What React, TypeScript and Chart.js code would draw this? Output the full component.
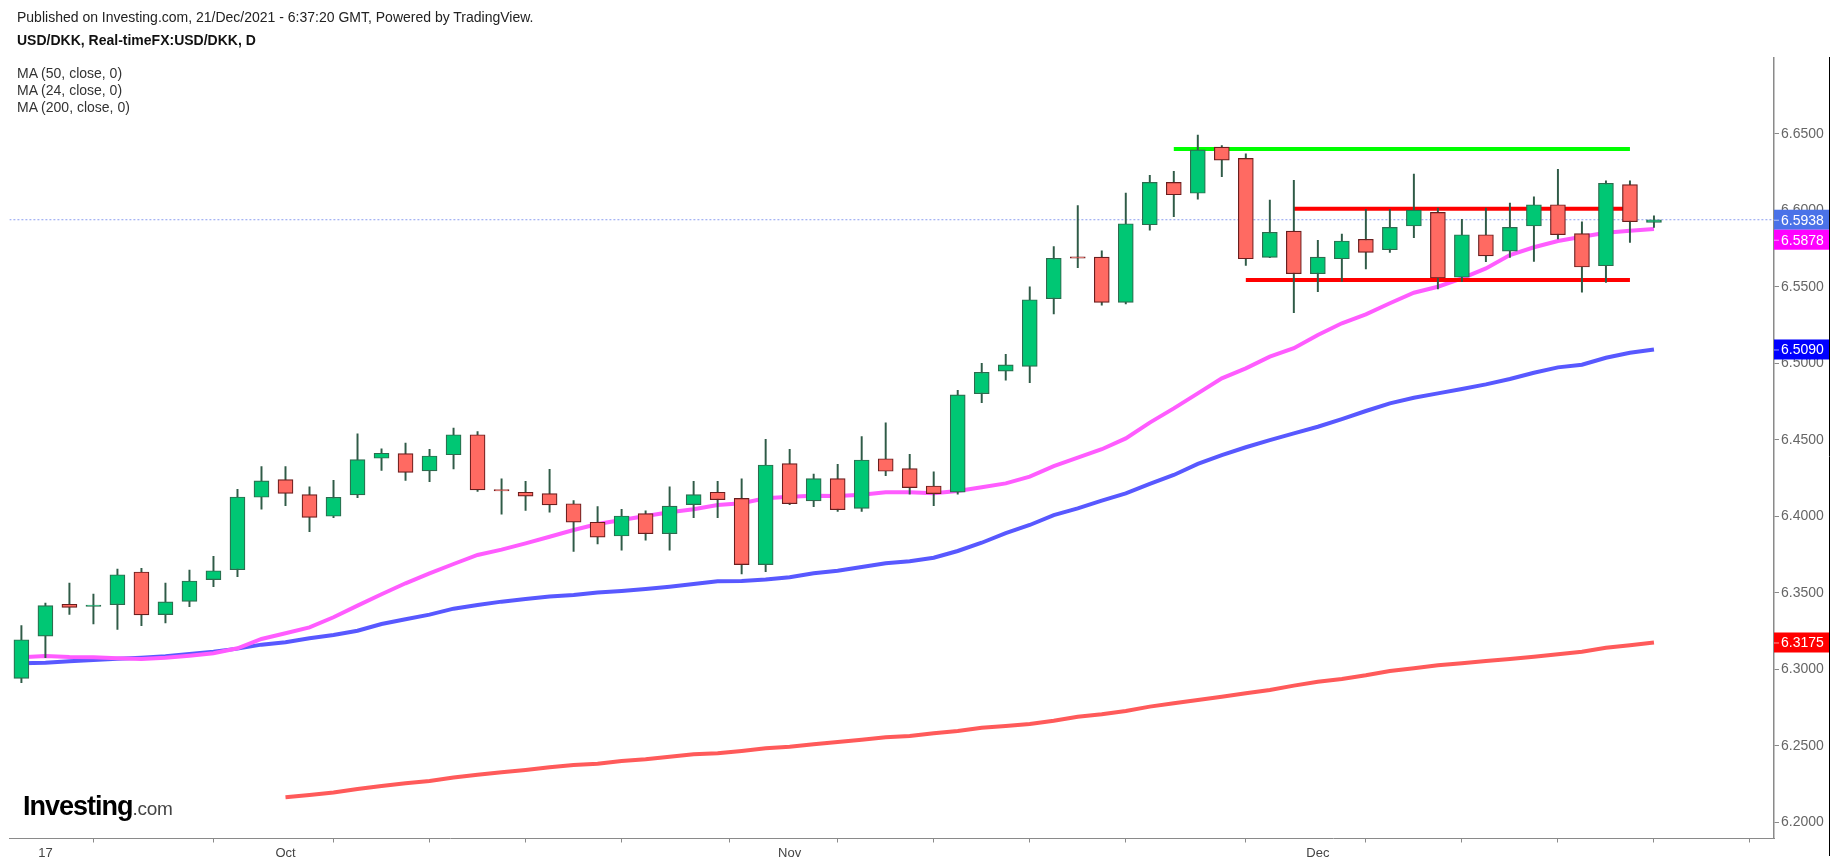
import React, { useEffect, useRef } from "react";
import { Chart, registerables } from "chart.js";

Chart.register(...registerables);

const FONT = '"Liberation Sans", Arial, Helvetica, sans-serif';

// ---- categories (trading days) ----
const dates = [
  "2021-09-16", "2021-09-17", "2021-09-20", "2021-09-21", "2021-09-22", "2021-09-23", "2021-09-24",
  "2021-09-27", "2021-09-28", "2021-09-29", "2021-09-30",
  "2021-10-01", "2021-10-04", "2021-10-05", "2021-10-06", "2021-10-07", "2021-10-08", "2021-10-11",
  "2021-10-12", "2021-10-13", "2021-10-14", "2021-10-15", "2021-10-18", "2021-10-19", "2021-10-20",
  "2021-10-21", "2021-10-22", "2021-10-25", "2021-10-26", "2021-10-27", "2021-10-28", "2021-10-29",
  "2021-11-01", "2021-11-02", "2021-11-03", "2021-11-04", "2021-11-05", "2021-11-08", "2021-11-09",
  "2021-11-10", "2021-11-11", "2021-11-12", "2021-11-15", "2021-11-16", "2021-11-17", "2021-11-18",
  "2021-11-19", "2021-11-22", "2021-11-23", "2021-11-24", "2021-11-25", "2021-11-26", "2021-11-29",
  "2021-11-30",
  "2021-12-01", "2021-12-02", "2021-12-03", "2021-12-06", "2021-12-07", "2021-12-08", "2021-12-09",
  "2021-12-10", "2021-12-13", "2021-12-14", "2021-12-15", "2021-12-16", "2021-12-17", "2021-12-20",
  "2021-12-21",
];

// ---- OHLC series ----
const opens = [
  6.2940, 6.3216, 6.3425, 6.3410, 6.3422, 6.3636, 6.3357, 6.3444, 6.3586, 6.3651,
  6.4124, 6.4239, 6.4141, 6.4000, 6.4139, 6.4379, 6.4409, 6.4296, 6.4402, 6.4533,
  6.4175, 6.4157, 6.4148, 6.4082, 6.3961, 6.3871, 6.4017, 6.3886, 6.4076, 6.4157,
  6.4117, 6.3684, 6.4344, 6.4100, 6.4246, 6.4052, 6.4376, 6.4311, 6.4198, 6.4157,
  6.4801, 6.4949, 6.4980, 6.5422, 6.5696, 6.5694, 6.5398, 6.5905, 6.6182, 6.6111,
  6.6413, 6.6339, 6.5692, 6.5864, 6.5585, 6.5683, 6.5810, 6.5742, 6.5897, 6.5986,
  6.5562, 6.5840, 6.5733, 6.5897, 6.6036, 6.5847, 6.5637, 6.6167, 6.5921,
];
const highs = [
  6.3285, 6.3433, 6.3564, 6.3492, 6.3655, 6.3660, 6.3564, 6.3649, 6.3738, 6.4176,
  6.4324, 6.4324, 6.4193, 6.4235, 6.4538, 6.4440, 6.4479, 6.4438, 6.4577, 6.4553,
  6.4244, 6.4229, 6.4307, 6.4102, 6.4063, 6.4046, 6.4036, 6.4193, 6.4229, 6.4229,
  6.4244, 6.4503, 6.4438, 6.4276, 6.4340, 6.4520, 6.4610, 6.4405, 6.4291, 6.4823,
  6.5000, 6.5058, 6.5500, 6.5762, 6.6030, 6.5735, 6.6112, 6.6228, 6.6254, 6.6492,
  6.6422, 6.6369, 6.6067, 6.6195, 6.5803, 6.5845, 6.6006, 6.6006, 6.6237, 6.6014,
  6.5941, 6.6014, 6.6047, 6.6088, 6.6268, 6.5925, 6.6193, 6.6193, 6.5964,
];
const lows = [
  6.2912, 6.3076, 6.3359, 6.3296, 6.3261, 6.3285, 6.3303, 6.3409, 6.3540, 6.3605,
  6.4046, 6.4069, 6.3899, 6.3991, 6.4121, 6.4300, 6.4235, 6.4226, 6.4309, 6.4163,
  6.4013, 6.4039, 6.4026, 6.3771, 6.3819, 6.3778, 6.3843, 6.3778, 6.3991, 6.3991,
  6.3623, 6.3638, 6.4076, 6.4063, 6.4032, 6.4032, 6.4265, 6.4144, 6.4069, 6.4144,
  6.4742, 6.4889, 6.4873, 6.5322, 6.5624, 6.5379, 6.5387, 6.5869, 6.5958, 6.6073,
  6.6219, 6.5640, 6.5690, 6.5330, 6.5468, 6.5535, 6.5616, 6.5725, 6.5820, 6.5485,
  6.5533, 6.5664, 6.5692, 6.5666, 6.5812, 6.5464, 6.5529, 6.5790, 6.5888,
];
const closes = [
  6.3193, 6.3416, 6.3405, 6.3420, 6.3618, 6.3355, 6.3440, 6.3577, 6.3644, 6.4126,
  6.4231, 6.4150, 6.3993, 6.4124, 6.4370, 6.4412, 6.4287, 6.4394, 6.4533, 6.4172,
  6.4166, 6.4132, 6.4074, 6.3961, 6.3863, 6.4002, 6.3886, 6.4067, 6.4141, 6.4108,
  6.3684, 6.4335, 6.4082, 6.4246, 6.4043, 6.4368, 6.4294, 6.4187, 6.4148, 6.4793,
  6.4941, 6.4990, 6.5415, 6.5686, 6.5686, 6.5398, 6.5912, 6.6182, 6.6101, 6.6395,
  6.6328, 6.5683, 6.5856, 6.5585, 6.5694, 6.5799, 6.5725, 6.5888, 6.6001, 6.5557,
  6.5840, 6.5701, 6.5888, 6.6036, 6.5840, 6.5629, 6.6176, 6.5925, 6.5938,
];

// ---- moving averages ----
const ma50 = [
  6.3039, 6.3043, 6.3052, 6.3061, 6.3069, 6.3076, 6.3085, 6.3100, 6.3115, 6.3135,
  6.3161, 6.3176, 6.3203, 6.3224, 6.3252, 6.3296, 6.3327, 6.3357, 6.3396, 6.3420,
  6.3442, 6.3459, 6.3475, 6.3486, 6.3501, 6.3512, 6.3525, 6.3540, 6.3557, 6.3575,
  6.3577, 6.3586, 6.3601, 6.3627, 6.3644, 6.3669, 6.3693, 6.3706, 6.3729, 6.3773,
  6.3827, 6.3890, 6.3943, 6.4008, 6.4052, 6.4102, 6.4150, 6.4211, 6.4270, 6.4342,
  6.4400, 6.4451, 6.4498, 6.4542, 6.4585, 6.4635, 6.4688, 6.4738, 6.4775, 6.4803,
  6.4832, 6.4862, 6.4897, 6.4938, 6.4973, 6.4990, 6.5036, 6.5069, 6.5090,
];
const ma24 = [
  6.3078, 6.3087, 6.3080, 6.3078, 6.3072, 6.3067, 6.3076, 6.3089, 6.3105, 6.3137,
  6.3198, 6.3235, 6.3274, 6.3340, 6.3416, 6.3490, 6.3562, 6.3627, 6.3688, 6.3747,
  6.3782, 6.3823, 6.3866, 6.3910, 6.3949, 6.3976, 6.4002, 6.4026, 6.4046, 6.4074,
  6.4085, 6.4117, 6.4128, 6.4134, 6.4132, 6.4141, 6.4157, 6.4157, 6.4150, 6.4165,
  6.4189, 6.4215, 6.4259, 6.4328, 6.4383, 6.4438, 6.4509, 6.4612, 6.4705, 6.4803,
  6.4901, 6.4967, 6.5043, 6.5098, 6.5185, 6.5261, 6.5320, 6.5392, 6.5461, 6.5500,
  6.5555, 6.5620, 6.5707, 6.5758, 6.5799, 6.5827, 6.5853, 6.5866, 6.5878,
];
const ma200Start = 11; // first date with a 200-day value shown (2021-10-01)
const ma200 = [
  6.2164, 6.2179, 6.2194, 6.2218, 6.2237, 6.2255, 6.2270, 6.2292, 6.2311, 6.2327,
  6.2342, 6.2360, 6.2375, 6.2383, 6.2401, 6.2412, 6.2429, 6.2444, 6.2451, 6.2466,
  6.2484, 6.2494, 6.2510, 6.2525, 6.2540, 6.2556, 6.2564, 6.2582, 6.2597, 6.2618,
  6.2629, 6.2643, 6.2664, 6.2690, 6.2706, 6.2727, 6.2756, 6.2778, 6.2799, 6.2821,
  6.2843, 6.2865, 6.2893, 6.2919, 6.2937, 6.2961, 6.2989, 6.3006, 6.3026, 6.3039,
  6.3054, 6.3067, 6.3082, 6.3098, 6.3115, 6.3141, 6.3157, 6.3175,
];

// ---- drawn levels ----
const resistanceLevel = 6.6400;
const resistanceSpan = ["2021-11-23", "2021-12-20"];
const rangeTopLevel = 6.6010;
const rangeTopSpan = ["2021-11-30", "2021-12-20"];
const rangeBottomLevel = 6.5544;
const rangeBottomSpan = ["2021-11-26", "2021-12-20"];
const lastPrice = 6.5938;

// ---- ticks ----
const yTicks = [6.20, 6.25, 6.30, 6.35, 6.40, 6.45, 6.50, 6.55, 6.60, 6.65];
const xTickIndex = [1, 5, 11, 15, 19, 23, 27, 32, 36, 40, 44, 48, 54, 58, 62, 66, 70];
const xTickLabels = ["17", "", "Oct", "", "", "", "", "Nov", "", "", "", "", "Dec", "", "", "", ""];

const legendLines = ["MA (50, close, 0)", "MA (24, close, 0)", "MA (200, close, 0)"];

const GREEN = "#00c774";
const GREEN_EDGE = "#2d6b4e";
const RED = "#ff6a62";
const RED_EDGE = "#6a1e1e";
const WICK = "#2f5b47";

export default function App() {
  const ref = useRef<HTMLCanvasElement | null>(null);

  useEffect(() => {
    if (!ref.current) return;
    const idx = (d: string) => dates.indexOf(d);
    const up = closes.map((c, i) => c >= opens[i]);
    const xMin = -0.5;
    const xMax = 73;

    const tagPlugin = {
      id: "tags",
      afterDraw(chart: any) {
        const ctx = chart.ctx;
        const ys = chart.scales.y;
        const area = chart.chartArea;
        ctx.save();
        // right frame line
        ctx.strokeStyle = "#000";
        ctx.lineWidth = 1;
        ctx.beginPath();
        ctx.moveTo(1829.5, 57);
        ctx.lineTo(1829.5, 856);
        ctx.stroke();
        const tags = [
          { v: lastPrice, c: "#4a72e8" },
          { v: ma24[ma24.length - 1], c: "#ff00ff" },
          { v: ma50[ma50.length - 1], c: "#0000ff" },
          { v: ma200[ma200.length - 1], c: "#ff0000" },
        ];
        let prevBottom = -Infinity;
        const h = 20;
        ctx.font = `14px ${FONT}`;
        ctx.textBaseline = "middle";
        ctx.textAlign = "left";
        tags.forEach((t) => {
          let cy = ys.getPixelForValue(t.v);
          if (cy - h / 2 < prevBottom) cy = prevBottom + h / 2;
          prevBottom = cy + h / 2;
          ctx.fillStyle = t.c;
          ctx.fillRect(area.right, cy - h / 2, 55, h);
          ctx.strokeStyle = "rgba(255,255,255,0.6)";
          ctx.beginPath();
          ctx.moveTo(area.right, cy + 0.5);
          ctx.lineTo(area.right + 5, cy + 0.5);
          ctx.stroke();
          ctx.fillStyle = "#fff";
          ctx.fillText(t.v.toFixed(4), area.right + 7, cy + 1);
        });
        ctx.restore();
      },
    };

    const chart = new Chart(ref.current, {
      type: "bar",
      data: {
        datasets: [
          {
            type: "bar",
            label: "body",
            data: closes.map((c, i) => ({ x: i, y: [opens[i], c] })) as any,
            backgroundColor: up.map((u) => (u ? GREEN : RED)),
            borderColor: up.map((u) => (u ? GREEN_EDGE : RED_EDGE)),
            borderWidth: 1.2,
            borderSkipped: false,
            barThickness: 15,
            grouped: false,
            order: 0,
          } as any,
          {
            type: "bar",
            label: "wick",
            data: highs.map((h, i) => ({ x: i, y: [lows[i], h] })) as any,
            backgroundColor: WICK,
            borderWidth: 0,
            barThickness: 1.3,
            grouped: false,
            order: 1,
          } as any,
          {
            type: "line",
            label: "range top",
            data: [
              { x: idx(rangeTopSpan[0]), y: rangeTopLevel },
              { x: idx(rangeTopSpan[1]), y: rangeTopLevel },
            ],
            borderColor: "#ff0000",
            borderWidth: 4,
            pointRadius: 0,
            order: 2,
          },
          {
            type: "line",
            label: "range bottom",
            data: [
              { x: idx(rangeBottomSpan[0]), y: rangeBottomLevel },
              { x: idx(rangeBottomSpan[1]), y: rangeBottomLevel },
            ],
            borderColor: "#ff0000",
            borderWidth: 4,
            pointRadius: 0,
            order: 2,
          },
          {
            type: "line",
            label: "resistance",
            data: [
              { x: idx(resistanceSpan[0]), y: resistanceLevel },
              { x: idx(resistanceSpan[1]), y: resistanceLevel },
            ],
            borderColor: "#00ff00",
            borderWidth: 4,
            pointRadius: 0,
            order: 2,
          },
          {
            type: "line",
            label: "MA 24",
            data: ma24.map((v, i) => ({ x: i, y: v })),
            borderColor: "#ff5cff",
            borderWidth: 4,
            pointRadius: 0,
            tension: 0,
            order: 3,
          },
          {
            type: "line",
            label: "MA 50",
            data: ma50.map((v, i) => ({ x: i, y: v })),
            borderColor: "#5858ff",
            borderWidth: 4,
            pointRadius: 0,
            tension: 0,
            order: 3,
          },
          {
            type: "line",
            label: "MA 200",
            data: ma200.map((v, k) => ({ x: ma200Start + k, y: v })),
            borderColor: "#ff5a5a",
            borderWidth: 4,
            pointRadius: 0,
            tension: 0,
            order: 3,
          },
          {
            type: "line",
            label: "last",
            data: [
              { x: xMin, y: lastPrice },
              { x: xMax, y: lastPrice },
            ],
            borderColor: "#8c9ff0",
            borderWidth: 1,
            borderDash: [2, 2],
            pointRadius: 0,
            order: 4,
          },
        ] as any,
      },
      options: {
        animation: false,
        responsive: false,
        devicePixelRatio: 1,
        layout: { padding: { left: 9.4, top: 58, right: 8, bottom: 0 } },
        plugins: {
          legend: { display: false },
          tooltip: { enabled: false },
        },
        scales: {
          x: {
            type: "linear",
            min: xMin,
            max: xMax,
            offset: false,
            afterBuildTicks: (s: any) => {
              s.ticks = xTickIndex.map((v) => ({ value: v }));
            },
            afterFit: (s: any) => {
              s.height = 27.5;
            },
            grid: {
              display: true,
              drawOnChartArea: false,
              drawTicks: true,
              tickLength: 4,
              color: "#8a8a8a",
            },
            border: { display: true, color: "#8a8a8a", width: 1 },
            ticks: {
              autoSkip: false,
              maxRotation: 0,
              padding: 3,
              color: "#444",
              font: { size: 13, family: FONT },
              callback: (_v: any, i: number) => xTickLabels[i] ?? "",
            },
          },
          y: {
            type: "linear",
            position: "right",
            min: 6.1894,
            max: 6.6995,
            afterBuildTicks: (s: any) => {
              s.ticks = yTicks.map((v) => ({ value: v }));
            },
            afterFit: (s: any) => {
              s.width = 55;
            },
            grid: {
              display: true,
              drawOnChartArea: false,
              drawTicks: true,
              tickLength: 5,
              color: "#8a8a8a",
            },
            border: { display: true, color: "#8a8a8a", width: 1.5 },
            ticks: {
              padding: 2,
              color: "#666",
              font: { size: 14, family: FONT },
              callback: (v: any) => Number(v).toFixed(4),
            },
          },
        },
      } as any,
      plugins: [tagPlugin],
    });
    return () => chart.destroy();
  }, []);

  return (
    <div
      style={{
        position: "fixed",
        left: 0,
        top: 0,
        width: 1837,
        height: 866,
        background: "#fff",
        fontFamily: FONT,
        overflow: "hidden",
      }}
    >
      <canvas ref={ref} width={1837} height={866} style={{ position: "absolute", left: 0, top: 0 }} />
      <div style={{ position: "absolute", left: 17, top: 9, fontSize: 14, lineHeight: "16px", color: "#222", whiteSpace: "nowrap" }}>
        Published on Investing.com, 21/Dec/2021 - 6:37:20 GMT, Powered by TradingView.
      </div>
      <div
        style={{
          position: "absolute",
          left: 17,
          top: 32,
          fontSize: 14,
          lineHeight: "16px",
          fontWeight: "bold",
          color: "#111",
          whiteSpace: "nowrap",
        }}
      >
        USD/DKK, Real-timeFX:USD/DKK, D
      </div>
      {legendLines.map((t, i) => (
        <div
          key={t}
          style={{
            position: "absolute",
            left: 17,
            top: 65 + i * 17,
            fontSize: 14,
            lineHeight: "16px",
            color: "#333",
            whiteSpace: "nowrap",
          }}
        >
          {t}
        </div>
      ))}
      <div
        style={{
          position: "absolute",
          left: 23,
          top: 793,
          lineHeight: "27px",
          whiteSpace: "nowrap",
        }}
      >
        <span style={{ fontSize: 27, fontWeight: "bold", letterSpacing: -1, color: "#000" }}>Investing</span>
        <span style={{ fontSize: 19, color: "#444", letterSpacing: -0.3 }}>.com</span>
      </div>
    </div>
  );
}
